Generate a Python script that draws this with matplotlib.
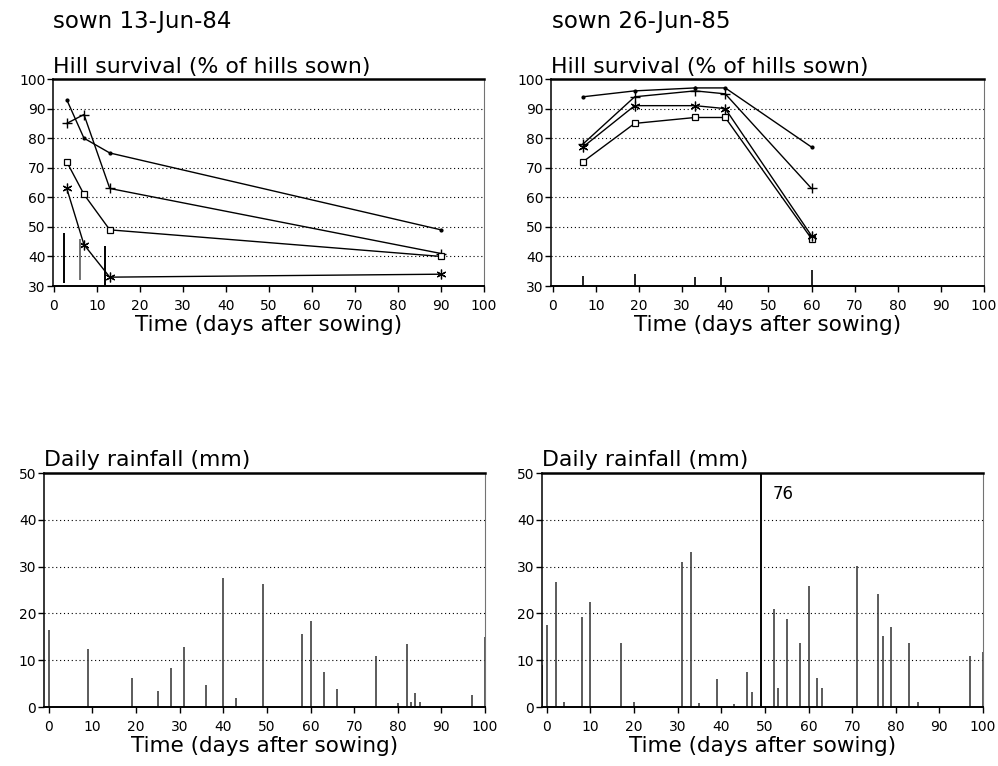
import matplotlib
matplotlib.use("Agg")
import matplotlib.pyplot as plt

# ---------------- data ----------------
# 1984 (sown 13-Jun-84) hill survival
days84 = [3, 7, 13, 90]
dot84 = [93, 80, 75, 49]
plus84 = [85, 88, 63, 41]
square84 = [72, 61, 49, 40]
aster84 = [63, 44, 33, 34]
lsd_x84 = [2.4, 6.0, 11.8]
lsd_top84 = [48, 46, 43.5]
lsd_bot84 = [31, 32, 30]

# 1985 (sown 26-Jun-85) hill survival
days85 = [7, 19, 33, 40, 60]
dot85 = [94, 96, 97, 97, 77]
plus85 = [78, 94, 96, 95, 63]
aster85 = [77, 91, 91, 90, 47]
square85 = [72, 85, 87, 87, 46]
lsd_x85 = [7, 19, 33, 39, 60]
lsd_top85 = [33.5, 34, 33, 33, 35.5]

# daily rainfall 1984
rain84_day = [0, 9, 19, 25, 28, 31, 36, 40, 43, 49, 58, 60, 63, 66, 75, 80, 82, 83,
              84, 85, 97, 100]
rain84_mm = [16.5, 12.4, 6.3, 3.5, 8.3, 12.9, 4.7, 27.5, 1.9, 26.3, 15.6, 18.4, 7.5,
             3.9, 10.9, 0.9, 13.4, 1.0, 2.9, 1.0, 2.6, 15]

# daily rainfall 1985
rain85_day = [-1, 0, 2, 4, 8, 10, 17, 20, 31, 33, 35, 39, 43, 46, 47, 49, 52, 53, 55,
              58, 60, 62, 63, 71, 76, 77, 79, 83, 85, 97, 100]
rain85_mm = [9, 17.6, 26.8, 1.1, 19.3, 22.5, 13.6, 1.1, 30.9, 33.2, 0.9, 5.9, 0.7,
             7.4, 3.2, 76, 20.9, 4.1, 18.9, 13.7, 25.9, 6.1, 4.1, 30.1, 24.2, 15.1,
             17.1, 13.7, 1.1, 10.9, 11.8]

xticks = [0, 10, 20, 30, 40, 50, 60, 70, 80, 90, 100]
surv_yticks = [30, 40, 50, 60, 70, 80, 90, 100]
rain_yticks = [0, 10, 20, 30, 40, 50]

# ---------------- figure ----------------
plt.rcParams['font.family'] = ['DejaVu Sans']
fig = plt.figure(figsize=(9.98, 7.66), dpi=100)

TITLE_FS = 15.8
TICK_FS = 10
XLAB_FS = 15.5


def style(ax, ylim, yticks, xlim):
    ax.set_xlim(*xlim)
    ax.set_ylim(*ylim)
    ax.set_xticks(xticks)
    ax.set_yticks(yticks)
    ax.tick_params(axis='both', direction='out', length=4, width=1,
                   labelsize=TICK_FS, color='black')
    ax.tick_params(axis='y', pad=1.5)
    ax.tick_params(axis='x', pad=5)
    for yv in yticks[1:-1]:
        ax.axhline(yv, color='black', lw=0.8, ls=(0, (1, 2.5)), zorder=0)
    ax.spines['top'].set_linewidth(1.8)
    ax.spines['bottom'].set_linewidth(1.4)
    ax.spines['left'].set_linewidth(1.1)
    ax.spines['right'].set_linewidth(0.8)
    ax.spines['right'].set_color('0.45')
    ax.set_xlabel('Time (days after sowing)', fontsize=XLAB_FS, labelpad=2)


def survival(ax, x, dot, plus, square, aster):
    kw = dict(color='black', lw=1.0, clip_on=False)
    ax.plot(x, dot, marker='o', ms=2, **kw)
    ax.plot(x, plus, marker='+', ms=7, mew=1.0, **kw)
    ax.plot(x, square, marker='s', ms=5, mfc='white', mew=0.9, **kw)
    ax.plot(x, aster, marker=(6, 2, 0), ms=7, mew=0.9, **kw)


# top-left
ax1 = fig.add_axes([0.0531, 0.6266, 0.4319, 0.2702])
style(ax1, (30, 100), surv_yticks, (-0.2, 100))
survival(ax1, days84, dot84, plus84, square84, aster84)
ax1.vlines(lsd_x84, lsd_bot84, lsd_top84, colors=['black', '0.45', 'black'], lw=1.4)
ax1.text(0.0, 1.012, 'Hill survival (% of hills sown)', transform=ax1.transAxes,
         ha='left', va='bottom', fontsize=TITLE_FS)

# top-right
ax2 = fig.add_axes([0.5521, 0.6266, 0.4339, 0.2702])
style(ax2, (30, 100), surv_yticks, (-0.4, 100))
survival(ax2, days85, dot85, plus85, square85, aster85)
ax2.vlines(lsd_x85, 30, lsd_top85, colors='black', lw=1.2)
ax2.text(0.0, 1.012, 'Hill survival (% of hills sown)', transform=ax2.transAxes,
         ha='left', va='bottom', fontsize=TITLE_FS)

# bottom-left
ax3 = fig.add_axes([0.0441, 0.0770, 0.4419, 0.3055])
style(ax3, (0, 50), rain_yticks, (-1.1, 100))
ax3.vlines(rain84_day, 0, rain84_mm, colors='0.25', lw=1.2)
ax3.text(0.0, 1.012, 'Daily rainfall (mm)', transform=ax3.transAxes,
         ha='left', va='bottom', fontsize=TITLE_FS)

# bottom-right
ax4 = fig.add_axes([0.5431, 0.0770, 0.4419, 0.3055])
style(ax4, (0, 50), rain_yticks, (-1.1, 100))
ax4.vlines(rain85_day, 0, rain85_mm, colors='0.25', lw=1.2)
big = rain85_mm.index(max(rain85_mm))
ax4.vlines(rain85_day[big], 0, 50, colors='black', lw=1.3)
ax4.text(rain85_day[big] + 2.8, 45.5, f'{max(rain85_mm):g}', fontsize=12,
         ha='left', va='center')
ax4.text(0.0, 1.012, 'Daily rainfall (mm)', transform=ax4.transAxes,
         ha='left', va='bottom', fontsize=TITLE_FS)

# sowing-date headings
fig.text(0.053, 0.963, 'sown 13-Jun-84', fontsize=16.5, ha='left', va='baseline')
fig.text(0.553, 0.963, 'sown 26-Jun-85', fontsize=16.5, ha='left', va='baseline')

fig.savefig('out.png', dpi=100)
